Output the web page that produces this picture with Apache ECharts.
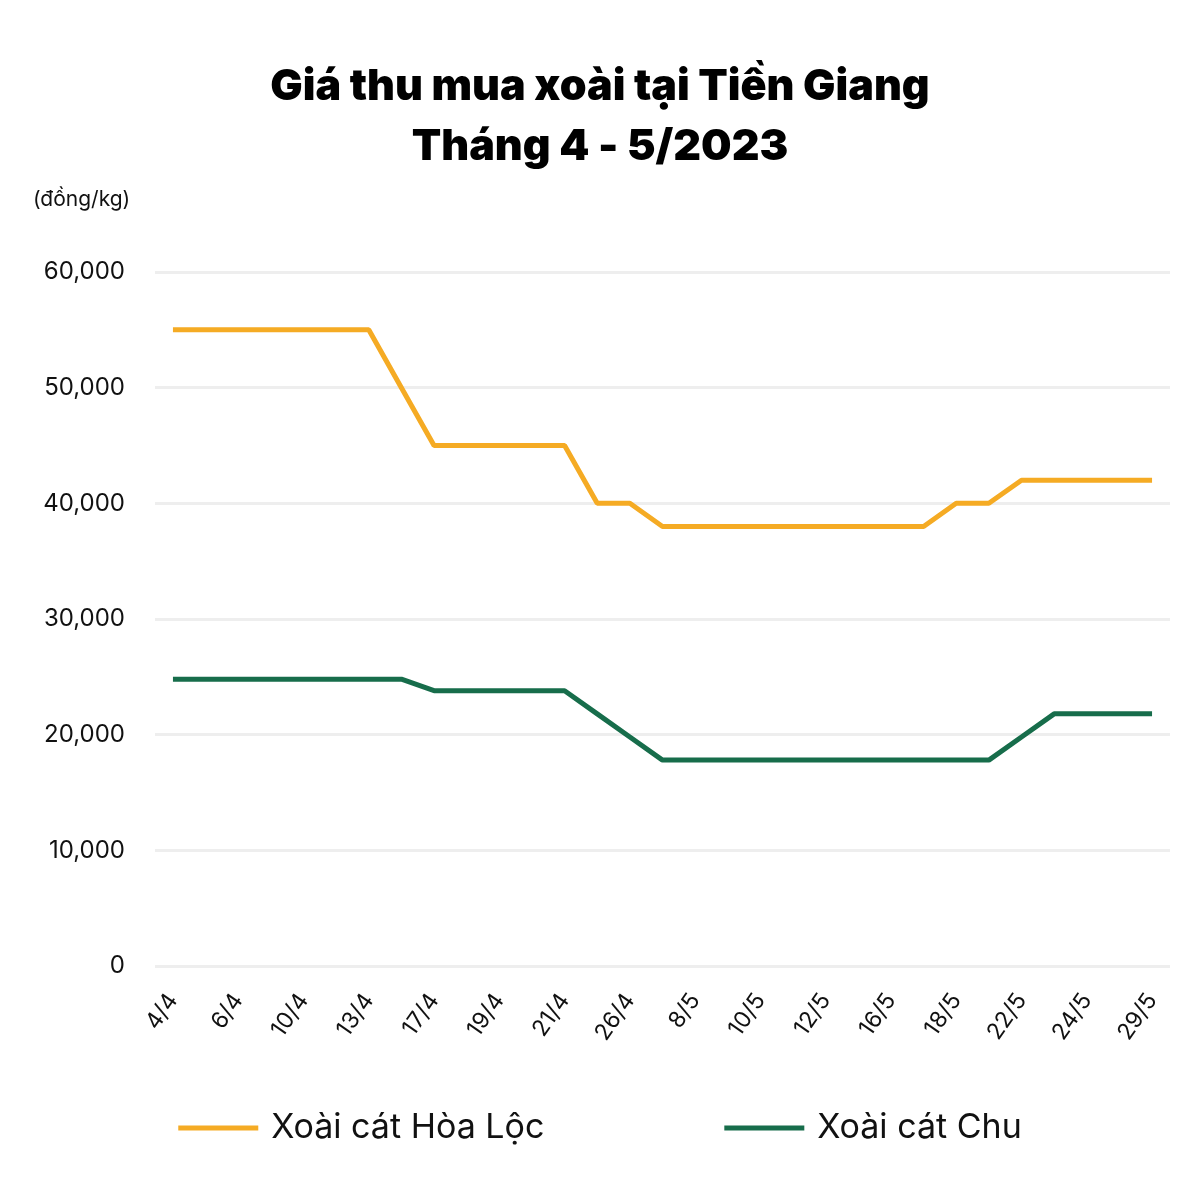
<!DOCTYPE html>
<html><head><meta charset="utf-8">
<script src="https://cdn.jsdelivr.net/npm/echarts@6/dist/echarts.min.js"></script>
<style>html,body{margin:0;padding:0;background:#fff}#c{width:1200px;height:1200px}</style>
</head><body><div id="c"></div>
<script>
const categories = ['4/4','5/4','6/4','8/4','10/4','12/4','13/4','15/4','17/4','18/4','19/4','20/4','21/4','25/4','26/4','28/4','8/5','9/5','10/5','11/5','12/5','15/5','16/5','17/5','18/5','20/5','22/5','23/5','24/5','26/5','29/5'];
const hoaLoc = [55000,55000,55000,55000,55000,55000,55000,50000,45000,45000,45000,45000,45000,40000,40000,38000,38000,38000,38000,38000,38000,38000,38000,38000,40000,40000,42000,42000,42000,42000,42000];
const catChu = [24800,24800,24800,24800,24800,24800,24800,24800,23800,23800,23800,23800,23800,21800,19800,17800,17800,17800,17800,17800,17800,17800,17800,17800,17800,17800,19800,21800,21800,21800,21800];
const labelIdx = categories.map((c,i)=>i).filter(i=>i%2===0);
const chart = echarts.init(document.getElementById('c'));
chart.setOption({
  backgroundColor:'#fff',
  title:{text:'Giá thu mua xoài tại Tiền Giang\nTháng 4 - 5/2023',left:'center',top:52,
    textStyle:{fontFamily:'Inter',fontWeight:900,fontSize:43,lineHeight:60,color:'#000'}},
  legend:{bottom:50,left:'center',itemGap:180,itemWidth:80,itemHeight:5,icon:'rect',
    textStyle:{fontFamily:'Inter',fontSize:34,color:'#111',padding:[0,0,0,8]},
    data:['Xoài cát Hòa Lộc','Xoài cát Chu']},
  grid:{left:155,right:30,top:272,bottom:234,containLabel:false},
  xAxis:{type:'value',min:-0.55,max:30.55,
    axisLine:{show:false},axisTick:{show:false},splitLine:{show:false},
    axisLabel:{customValues:labelIdx,formatter:v=>categories[Math.round(v)],rotate:55,margin:30,fontFamily:'Inter',fontSize:23,color:'#111'}},
  yAxis:{type:'value',min:0,max:60000,interval:10000,
    axisLine:{show:false},axisTick:{show:false},
    name:'(đồng/kg)',nameLocation:'end',nameGap:62,nameTextStyle:{fontFamily:'Inter',fontSize:21,color:'#111',align:'left',padding:[0,0,0,-140]},
    axisLabel:{formatter:v=>v.toLocaleString('en-US'),fontFamily:'Inter',fontSize:24,color:'#111',margin:30},
    splitLine:{lineStyle:{color:'#eeeeee',width:3}}},
  series:[
    {name:'Xoài cát Hòa Lộc',type:'line',data:hoaLoc.map((v,i)=>[i,v]),showSymbol:false,color:'#f5ab24',lineStyle:{width:5}},
    {name:'Xoài cát Chu',type:'line',data:catChu.map((v,i)=>[i,v]),showSymbol:false,color:'#176d4b',lineStyle:{width:5}}
  ]
});
</script></body></html>
